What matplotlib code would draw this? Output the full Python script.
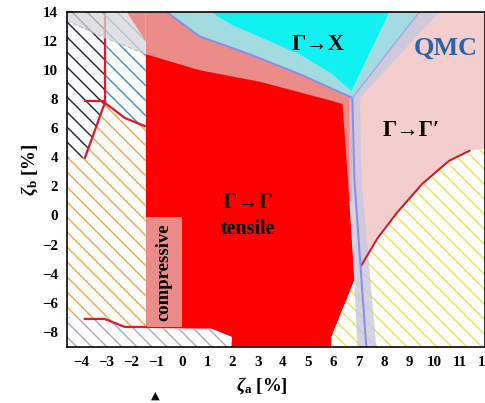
import matplotlib
matplotlib.use("Agg")
import matplotlib.pyplot as plt

plt.rcParams['hatch.linewidth'] = 1.1
plt.rcParams['mathtext.fontset'] = 'custom'
plt.rcParams['mathtext.rm'] = 'Liberation Serif:bold'
plt.rcParams['mathtext.it'] = 'Liberation Serif:italic:bold'
serif = ['Liberation Serif', 'DejaVu Serif']

# phase boundaries (zeta_a, zeta_b in %)
pink_x = [6.75, 9.40, 12.0, 12.0, 7.30, 6.83]
pink_y = [8.1, 14.0, 14.0, -9.05, -9.05, 2.4]

salmon_x = [-2.18, -1.43, -1.43, 6.75, 6.75, 6.75]
salmon_y = [14.0, 12.0, 1.0, 1.0, 8.1, 14.0]

lcyan_x = [-0.60, 0.70, 2.68, 4.66, 6.75, 9.40]
lcyan_y = [14.0, 12.33, 11.10, 9.73, 8.1, 14.0]

cyan_x = [1.15, 2.0, 2.68, 3.6, 4.66, 5.96, 6.71, 8.21]
cyan_y = [14.0, 13.1, 12.6, 11.9, 11.10, 9.73, 8.56, 14.0]

red_x = [-1.43, 0.70, 3.10, 5.96, 6.36, 6.63, 6.83, 5.92, 5.92, 1.97, 1.97, 1.18, -1.43]
red_y = [11.1, 10.0, 9.2, 7.88, 7.67, 1.03, -4.45, -8.36, -9.05, -9.05, -8.36, -7.8, -7.8]

black_x = [-4.55, -3.05, -3.05, -3.84, -4.55]
black_y = [14.0, 14.0, 7.75, 3.97, 3.9]

blue_x = [-3.05, -1.43, -1.43, -2.26, -2.77, -3.05]
blue_y = [14.0, 14.0, 6.16, 6.71, 7.4, 7.75]

orange_x = [-4.55, -3.84, -3.05, -2.77, -2.26, -1.43, -1.43, -2.26, -3.05, -3.84, -4.55]
orange_y = [3.9, 3.97, 7.75, 7.4, 6.71, 6.16, -7.67, -7.67, -7.12, -7.12, -7.0]

grey_x = [-4.55, -4.55, -3.84, -3.05, -2.26, -1.43, 1.18, 1.97, 1.97]
grey_y = [-9.05, -7.0, -7.12, -7.12, -7.67, -7.75, -7.8, -8.36, -9.05]

yellow_x = [6.83, 7.11, 7.74, 8.49, 9.52, 10.58, 11.38, 12.0, 12.0, 5.92, 5.92]
yellow_y = [-4.45, -3.42, -1.58, 0.14, 2.19, 3.77, 4.45, 4.6, -9.05, -9.05, -8.36]

topgrey_x = [-4.55, -4.55, -3.0, -1.43, -1.43]
topgrey_y = [14.0, 13.4, 12.2, 11.1, 14.0]

band_x = [6.63, 6.63, 6.95, 7.70, 7.11, 7.05, 10.19, 9.40, 6.75]
band_y = [8.4, 2.4, -9.05, -9.05, 2.4, 8.1, 14.0, 14.0, 8.1]

purple_x = [-0.60, 0.70, 2.68, 4.66, 6.75, 6.83, 7.30]
purple_y = [14.0, 12.33, 11.10, 9.73, 8.1, 2.4, -9.05]
arm_x = [6.75, 9.40]
arm_y = [8.1, 14.0]

curve_x = [7.11, 7.74, 8.49, 9.52, 10.58, 11.38]
curve_y = [-3.42, -1.58, 0.14, 2.19, 3.77, 4.45]

left_v_x = [-3.05, -3.05]
left_v_y = [14.0, 7.75]
left_h_x = [-3.84, -3.05]
left_h_y = [7.9, 7.9]
left_d_x = [-3.84, -3.05, -2.77, -2.26, -1.47]
left_d_y = [3.97, 7.75, 7.4, 6.71, 6.16]
bottom_x = [-3.84, -3.05, -2.26, -1.43]
bottom_y = [-7.12, -7.12, -7.67, -7.67]

xticks = list(range(-4, 13))
yticks = list(range(-8, 15, 2))

fig = plt.figure(figsize=(485/90, 403/90), dpi=90)
ax = fig.add_axes([0.138, 0.139, 0.862, 0.831])

ax.fill(pink_x, pink_y, color='#f4cdcd', lw=0, zorder=1)
ax.fill(salmon_x, salmon_y, color='#ec8c88', lw=0, zorder=2)
ax.fill(lcyan_x, lcyan_y, color='#a2dce0', lw=0, zorder=3)
ax.fill(cyan_x, cyan_y, color='#10f2f2', lw=0, zorder=4)
ax.fill(red_x, red_y, color='#ff0000', lw=0, zorder=5)

ax.fill(black_x, black_y, facecolor='white', edgecolor='#202030', hatch='\\\\', lw=0, zorder=5)
ax.fill(blue_x, blue_y, facecolor='white', edgecolor='#3a8fb0', hatch='\\\\', lw=0, zorder=5)
ax.fill(orange_x, orange_y, facecolor='white', edgecolor='#e8a848', hatch='\\\\', lw=0, zorder=5)
ax.fill(grey_x, grey_y, facecolor='white', edgecolor='#a8a8b8', hatch='\\\\', lw=0, zorder=5)
ax.fill(yellow_x, yellow_y, facecolor='white', edgecolor='#e4e44a', hatch='\\\\', lw=0, zorder=5)

# compressive box
ax.fill([-1.43, 0, 0, -1.43], [-0.1, -0.1, -7.7, -7.7], color='#ec8c88', lw=0, zorder=6)

ax.plot(left_v_x, left_v_y, color='#e0182a', lw=1.8, zorder=7)
ax.plot(left_h_x, left_h_y, color='#e0182a', lw=1.8, zorder=7)
ax.plot(left_d_x, left_d_y, color='#e0182a', lw=1.8, zorder=7)
ax.plot(bottom_x, bottom_y, color='#e0182a', lw=1.8, zorder=7)
ax.plot(curve_x, curve_y, color='#d01828', lw=1.6, zorder=9)

ax.fill(topgrey_x, topgrey_y, color='#d6d6da', alpha=0.75, lw=0, zorder=8)
ax.plot(topgrey_x[1:4], topgrey_y[1:4], color='#c0c0c8', lw=1, ls='--', zorder=8)
ax.fill([-2.18, -1.43, -1.43], [14.0, 12.0, 14.0], color='#ec8c88', lw=0, zorder=8)

ax.fill(band_x, band_y, color='#c8c8e0', alpha=0.8, lw=0, zorder=8)
ax.plot(purple_x, purple_y, color='#8c8ce6', lw=1.6, zorder=9)
ax.plot(arm_x, arm_y, color='#a8a8e6', lw=1.2, zorder=9)

ax.text(5.4, 11.78, 'Γ→X', family=serif, weight='bold', fontsize=18, ha='center', va='center', zorder=10)
ax.text(10.43, 11.5, 'QMC', family=serif, weight='bold', fontsize=21, color='#2a64a8', ha='center', va='center', zorder=10)
ax.text(9.08, 5.82, 'Γ→Γ′', family=serif, weight='bold', fontsize=18, ha='center', va='center', zorder=10)
ax.text(2.64, 0.9, 'Γ→Γ', family=serif, weight='bold', fontsize=18, ha='center', va='center', zorder=10)
ax.text(2.6, -0.96, 'tensile', family=serif, weight='bold', fontsize=16, ha='center', va='center', zorder=10)
ax.text(-0.72, -3.9, 'compressive', family=serif, weight='bold', fontsize=15, rotation=90, ha='center', va='center', zorder=10)

ax.set_xlim(-4.55, 12.0)
ax.set_ylim(-9.05, 14.0)
ax.set_xticks(xticks)
ax.set_yticks(yticks)
ax.set_xticks([x + 0.5 for x in xticks[:-1]], minor=True)
ax.set_yticks(list(range(-9, 14)), minor=True)
ax.tick_params(which='both', direction='in', width=1.2, zorder=11)
ax.tick_params(which='major', length=5, pad=7)
ax.tick_params(which='minor', length=3)
for lab in ax.get_xticklabels() + ax.get_yticklabels():
    lab.set_family(serif)
    lab.set_weight('bold')
    lab.set_fontsize(12)
for s in ax.spines.values():
    s.set_linewidth(1.3)
    s.set_zorder(11)

ax.set_xlabel(r'$\zeta_\mathrm{a}$ [%]', family=serif, weight='bold', fontsize=15)
ax.set_ylabel(r'$\zeta_\mathrm{b}$ [%]', family=serif, weight='bold', fontsize=15)
ax.xaxis.set_label_coords(0.466, -0.085)
ax.yaxis.set_label_coords(-0.064, 0.53)

fig.text(0.32, 0.005, '▲', fontsize=9, ha='center', va='bottom')

fig.savefig('out.png', dpi=90)
